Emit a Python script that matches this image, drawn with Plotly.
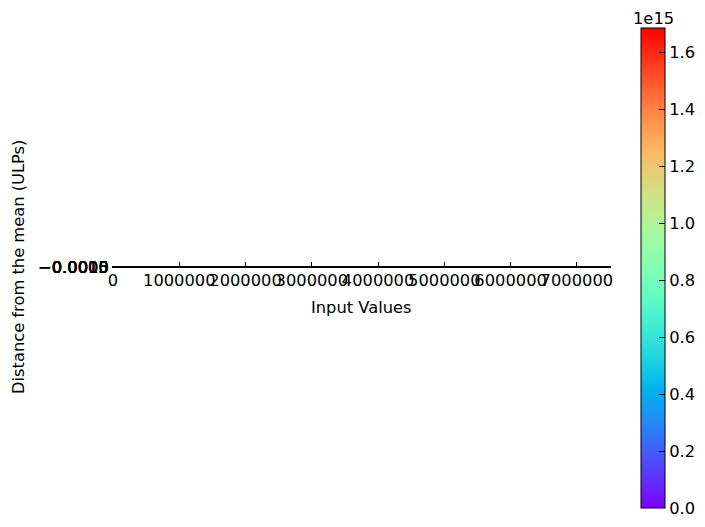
import math
import plotly.graph_objects as go

# ---- data ----
input_values = [150000, 820000, 1540000, 2310000, 3050000, 3880000,
                4620000, 5390000, 6170000, 6940000, 7480000]
ulp_distance = [3.1e12, -8.4e13, 2.2e14, -4.6e14, 6.9e14, -9.1e14,
                1.1e15, -1.3e15, 1.45e15, -1.6e15, 1.687e15]
ulp_magnitude = [0.0, 8.4e13, 2.2e14, 4.6e14, 6.9e14, 9.1e14,
                 1.1e15, 1.3e15, 1.45e15, 1.6e15, 1.687e15]

x_tickvals = [0, 1000000, 2000000, 3000000, 4000000, 5000000, 6000000, 7000000]
x_ticktext = ["0", "1000000", "2000000", "3000000", "4000000", "5000000", "6000000", "7000000"]
y_tickvals = [-0.0015, -0.0010, -0.0005, 0.0, 0.0005, 0.0010, 0.0015]
y_ticktext = ["\u22120.0015", "\u22120.0010", "\u22120.0005", "0.0000", "0.0005", "0.0010", "0.0015"]
cb_tickvals = [0.0, 0.2e15, 0.4e15, 0.6e15, 0.8e15, 1.0e15, 1.2e15, 1.4e15, 1.6e15]
cb_ticktext = ["0.0", "0.2", "0.4", "0.6", "0.8", "1.0", "1.2", "1.4", "1.6"]

# matplotlib "rainbow" colormap
def rainbow(t):
    r = min(1.0, abs(2 * t - 0.5))
    g = math.sin(math.pi * t)
    b = math.cos(math.pi * t / 2)
    return "rgb(%d,%d,%d)" % (round(r * 255), round(g * 255), round(max(0.0, b) * 255))

colorscale = [[i / 20, rainbow(i / 20)] for i in range(21)]

FONT = "DejaVu Sans"
FS = 16.3
W, H = 705, 527
ML, MR, MT, MB = 113, 95, 28, 19
plot_w = W - ML - MR
plot_h = H - MT - MB
line_y = 267

def py(pix):
    return (H - MB - pix) / plot_h

def px(pix):
    return (pix - ML) / plot_w

tf = dict(family=FONT, size=FS, color="black")

fig = go.Figure()
fig.add_trace(go.Scatter(
    x=input_values, y=ulp_distance, mode="markers",
    marker=dict(size=6, color=ulp_magnitude, colorscale=colorscale,
                cmin=0, cmax=max(ulp_magnitude),
                colorbar=dict(
                    x=px(641), xanchor="left", xpad=0, ypad=0,
                    y=0.5, yanchor="middle", len=1, lenmode="fraction",
                    thickness=24, thicknessmode="pixels",
                    outlinewidth=1, outlinecolor="black",
                    ticks="inside", ticklen=6, tickcolor="black",
                    tickvals=cb_tickvals, ticktext=cb_ticktext,
                    tickfont=tf,
                )),
    cliponaxis=True, showlegend=False,
))

d0 = py(line_y + 0.1)
d1 = py(line_y - 0.1)
fig.update_layout(
    width=W, height=H,
    margin=dict(l=ML, r=MR, t=MT, b=MB, autoexpand=False),
    paper_bgcolor="white", plot_bgcolor="white",
    font=tf,
    xaxis=dict(range=[0, 7500000], tickvals=x_tickvals, ticktext=x_ticktext,
               tickangle=0, automargin=False, ticklabelstandoff=-2,
               showgrid=False, zeroline=False, showline=True, mirror=True,
               linecolor="black", linewidth=1, ticks="inside", ticklen=5,
               tickcolor="black", tickfont=tf),
    yaxis=dict(domain=[d0, d1], range=[-0.002, 0.002], tickvals=y_tickvals,
               ticktext=y_ticktext, showgrid=False, zeroline=False, showline=True,
               mirror=True, linecolor="black", linewidth=1, ticks="inside",
               ticklen=5, tickcolor="black", automargin=False, tickfont=tf),
    annotations=[
        dict(text="Input Values", xref="paper", yref="paper", x=px(361), y=py(307),
             showarrow=False, xanchor="center", yanchor="middle", font=tf),
        dict(text="Distance from the mean (ULPs)", xref="paper", yref="paper",
             x=px(18), y=py(line_y), textangle=-90, showarrow=False,
             xanchor="center", yanchor="middle", font=tf),
        dict(text="1e15", xref="paper", yref="paper", x=px(653), y=py(18),
             showarrow=False, xanchor="center", yanchor="middle", font=tf),
    ],
)

fig.write_html("out.html")
